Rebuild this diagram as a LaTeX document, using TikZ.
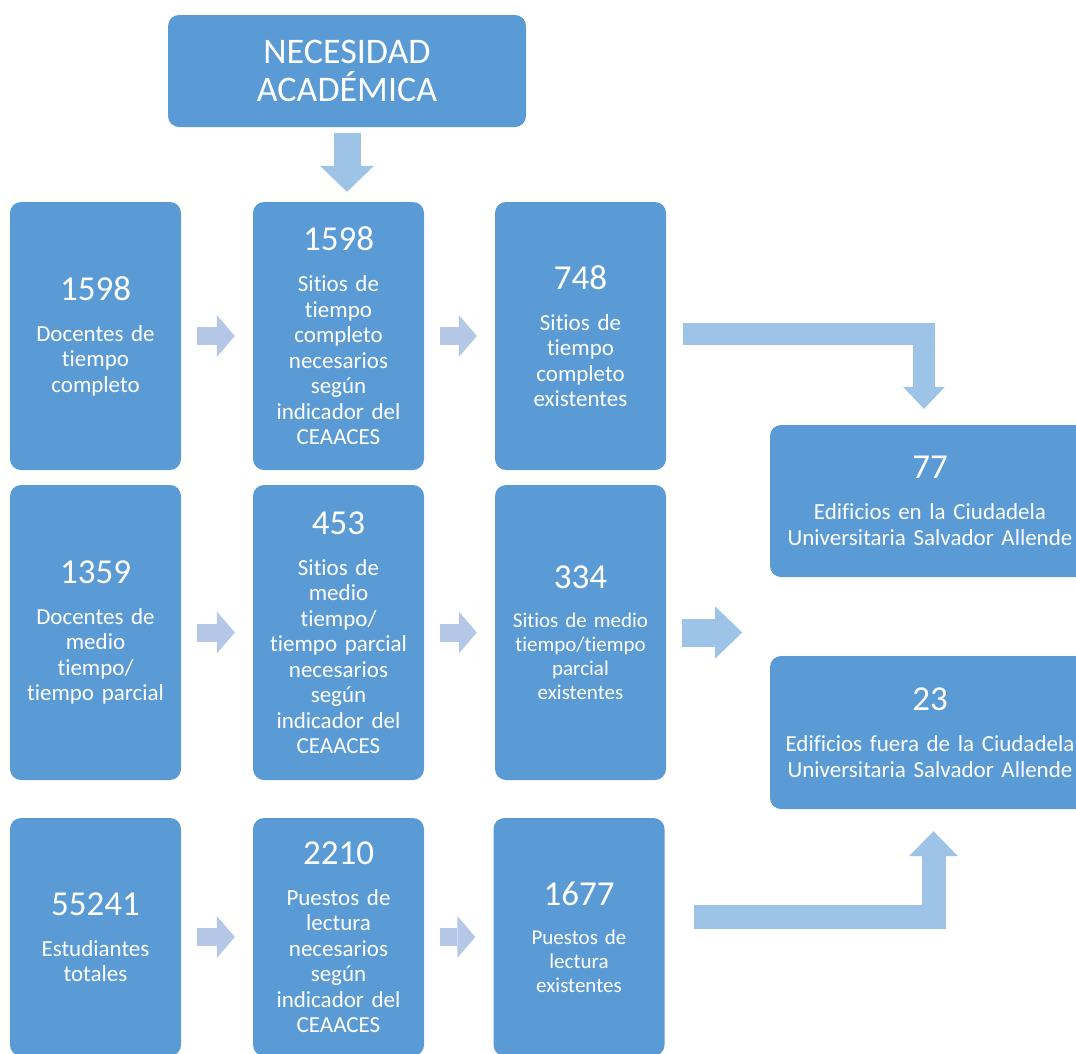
\documentclass[tikz,border=0pt]{standalone}
\usepackage{fontspec}
\setmainfont{Carlito}[Ligatures=NoCommon]
\usetikzlibrary{arrows.meta}
\definecolor{cajaazul}{HTML}{5B9BD5}
\definecolor{flechaclara}{HTML}{B4C7E7}
\definecolor{flechaazul}{HTML}{9DC3E6}
\newcommand{\numero}[1]{{\fontsize{35}{35}\selectfont #1\par}\vspace{15.5pt}}
\newcommand{\numeroch}[1]{{\fontsize{35}{35}\selectfont #1\par}\vspace{15pt}}
\begin{document}
\begin{tikzpicture}[x=1pt, y=-1pt,
  caja/.style={fill=cajaazul, rounded corners=11pt, text=white, align=center, inner sep=0pt, text width=171pt, font=\fontsize{23}{25.5}\selectfont},
  cajach/.style={caja, font=\fontsize{21}{24}\selectfont},
  flechita/.style={draw=flechaclara, line width=18pt, -{Triangle[length=18pt, width=42pt, line width=0pt]}},
  flechagrande/.style={draw=flechaazul, line width=#1}]
\useasboundingbox (0,0) rectangle (1076,1053);
\clip (0,0) rectangle (1076,1053);
\node[caja, text width=358pt, minimum height=112pt, font=\fontsize{36}{38}\selectfont] (titulo) at (347,71) {NECESIDAD\\ACADÉMICA};

\node[caja, minimum height=268pt] (a1) at (95.5,336) {\numero{1598}Docentes de\\tiempo\\completo};
\node[caja, minimum height=268pt] (b1) at (338.5,336) {\numero{1598}Sitios de\\tiempo\\completo\\necesarios\\según\\indicador del\\CEAACES};
\node[caja, minimum height=268pt] (c1) at (580.5,336) {\numero{748}Sitios de\\tiempo\\completo\\existentes};

\node[caja, minimum height=295pt] (a2) at (95.5,632.5) {\numero{1359}Docentes de\\medio\\tiempo/\\tiempo parcial};
\node[caja, minimum height=295pt] (b2) at (338.5,632.5) {\numero{453}Sitios de\\medio\\tiempo/\\tiempo parcial\\necesarios\\según\\indicador del\\CEAACES};
\node[cajach, minimum height=295pt] (c2) at (580.5,632.5) {\numeroch{334}Sitios de medio\\tiempo/tiempo\\parcial\\existentes};

\node[caja, minimum height=238pt] (a3) at (95.5,937) {\numero{55241}Estudiantes\\totales};
\node[caja, minimum height=238pt] (b3) at (338.5,937) {\numero{2210}Puestos de\\lectura\\necesarios\\según\\indicador del\\CEAACES};
\node[cajach, minimum height=238pt] (c3) at (579,937) {\numeroch{1677}Puestos de\\lectura\\existentes};

\node[caja, text width=320pt, minimum height=152pt] (ed1) at (930,501) {\numero{77}Edificios en la Ciudadela\\Universitaria Salvador Allende};
\node[caja, text width=320pt, minimum height=153pt] (ed2) at (930,732.5) {\numero{23}Edificios fuera de la Ciudadela\\Universitaria Salvador Allende};

\draw[flechagrande=27pt, -{Triangle[length=26pt, width=54pt, line width=0pt]}] ([yshift=-6pt]titulo.south) -- ([yshift=10pt]titulo.south |- b1.north);
\foreach \fila in {1,2,3}{
  \draw[flechita] ([xshift=16pt]a\fila.east) -- ([xshift=-18pt]b\fila.west);
  \draw[flechita] ([xshift=16pt]b\fila.east) -- ([xshift=-18pt]c\fila.west);
}
\draw[flechagrande=22pt, -{Triangle[length=22pt, width=42pt, line width=0pt]}] ([xshift=17pt,yshift=2.5pt]c1.east) -| ([xshift=-6pt,yshift=16pt]ed1.north);
\draw[flechagrande=28pt, -{Triangle[length=27pt, width=52pt, line width=0pt]}] ([xshift=16pt]c2.east) -- ([xshift=76pt]c2.east);
\draw[flechagrande=24pt, -{Triangle[length=25pt, width=49pt, line width=0pt]}] ([xshift=29pt,yshift=20pt]c3.east) -| ([xshift=3.5pt,yshift=-22pt]ed2.south);
\end{tikzpicture}
\end{document}
